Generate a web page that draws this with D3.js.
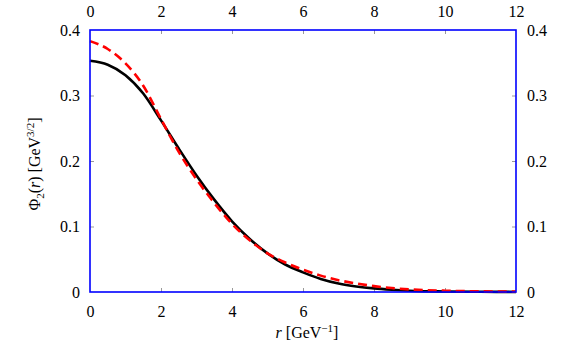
<!DOCTYPE html>
<html>
<head>
<meta charset="utf-8">
<script src="https://cdn.jsdelivr.net/npm/d3@7"></script>
</head>
<body style="margin:0">
<svg width="572" height="354"></svg>
<script>
// radial positions (GeV^-1)
const rValues = [0, 0.5, 1, 1.5, 2, 2.5, 3, 3.5, 4, 4.5, 5, 5.5, 6, 6.5, 7, 7.5, 8, 8.5, 9, 10, 11, 12]
// solid black curve
const phiSolid = [0.353, 0.347, 0.331, 0.303, 0.262, 0.219, 0.178, 0.141, 0.108, 0.081, 0.059, 0.042, 0.030, 0.020, 0.013, 0.0085, 0.0055, 0.0035, 0.002, 0.0008, 0.0003, 0.0001]
// dashed red curve
const phiDashed = [0.383, 0.371, 0.349, 0.315, 0.264, 0.214, 0.172, 0.136, 0.104, 0.079, 0.059, 0.045, 0.034, 0.025, 0.018, 0.013, 0.009, 0.006, 0.004, 0.002, 0.001, 0.0005]

const xTicks = [0, 2, 4, 6, 8, 10, 12]
const yTicks = [0, 0.1, 0.2, 0.3, 0.4]

const margin = { left: 90, right: 56, top: 30, bottom: 62 }
const W = 572, H = 354
const svg = d3.select('svg')
const FONT = "'Liberation Serif', 'Times New Roman', serif"

// serif text everywhere, forced so nothing else overrides it
const serif = sel => sel
  .attr('font-family', FONT)
  .style('font-family', FONT, 'important')
  .style('font-size', '16px', 'important')

svg.call(serif)

const x = d3.scaleLinear().domain([0, 12]).range([margin.left, W - margin.right])
const y = d3.scaleLinear().domain([0, 0.4]).range([H - margin.bottom, margin.top])

const styleAxis = (g, ends) => {
  g.call(serif)
  g.select('.domain').remove()
  g.selectAll('.tick line').attr('stroke', '#999').attr('stroke-width', 1)
    .filter(d => ends.includes(d)).remove()
  g.selectAll('.tick text').attr('fill', 'black').call(serif)
}

const fmtY = d => d === 0 ? '0' : d3.format('.1f')(d)

svg.append('g').attr('transform', `translate(0,${y(0)})`)
  .call(d3.axisBottom(x).tickValues(xTicks).tickSize(-4).tickPadding(14).tickFormat(d3.format('d')))
  .call(g => styleAxis(g, [0, 12]))
svg.append('g').attr('transform', `translate(0,${y(0.4)})`)
  .call(d3.axisTop(x).tickValues(xTicks).tickSize(-4).tickPadding(13).tickFormat(d3.format('d')))
  .call(g => styleAxis(g, [0, 12]))
svg.append('g').attr('transform', `translate(${x(0)},0)`)
  .call(d3.axisLeft(y).tickValues(yTicks).tickSize(-4).tickPadding(10).tickFormat(fmtY))
  .call(g => styleAxis(g, [0, 0.4]))
svg.append('g').attr('transform', `translate(${x(12)},0)`)
  .call(d3.axisRight(y).tickValues(yTicks).tickSize(-4).tickPadding(11).tickFormat(fmtY))
  .call(g => styleAxis(g, [0, 0.4]))

const line = vals => d3.line()
  .x((d, i) => x(rValues[i]))
  .y(d => y(d))
  .curve(d3.curveMonotoneX)(vals)

svg.append('path').attr('d', line(phiSolid))
  .attr('fill', 'none').attr('stroke', 'black').attr('stroke-width', 2.6)
svg.append('path').attr('d', line(phiDashed))
  .attr('fill', 'none').attr('stroke', '#ff0000').attr('stroke-width', 2.6)
  .attr('stroke-dasharray', '9,5')

// frame
svg.append('rect')
  .attr('x', x(0)).attr('y', y(0.4))
  .attr('width', x(12) - x(0)).attr('height', y(0) - y(0.4))
  .attr('fill', 'none').attr('stroke', '#0000ff').attr('stroke-width', 1.6)

const small = sel => sel.style('font-size', '11px', 'important')

// x label
const xl = svg.append('text')
  .attr('x', (x(0) + x(12)) / 2 + 4).attr('y', 338)
  .attr('text-anchor', 'middle')
  .call(serif)
xl.append('tspan').style('font-style', 'italic').text('r')
xl.append('tspan').text(' [GeV')
xl.append('tspan').attr('dy', -6).call(small).text('\u22121')
xl.append('tspan').attr('dy', 6).text(']')

// y label
const yl = svg.append('text')
  .attr('transform', `translate(40,${(y(0) + y(0.4)) / 2 + 3}) rotate(-90)`)
  .attr('text-anchor', 'middle')
  .call(serif)
yl.append('tspan').text('\u03a6')
yl.append('tspan').attr('dy', 4).call(small).text('2')
yl.append('tspan').attr('dy', -4).text('(')
yl.append('tspan').style('font-style', 'italic').text('r')
yl.append('tspan').text(') [GeV')
yl.append('tspan').attr('dy', -6).call(small).text('3/2')
yl.append('tspan').attr('dy', 6).text(']')
</script>
</body>
</html>
